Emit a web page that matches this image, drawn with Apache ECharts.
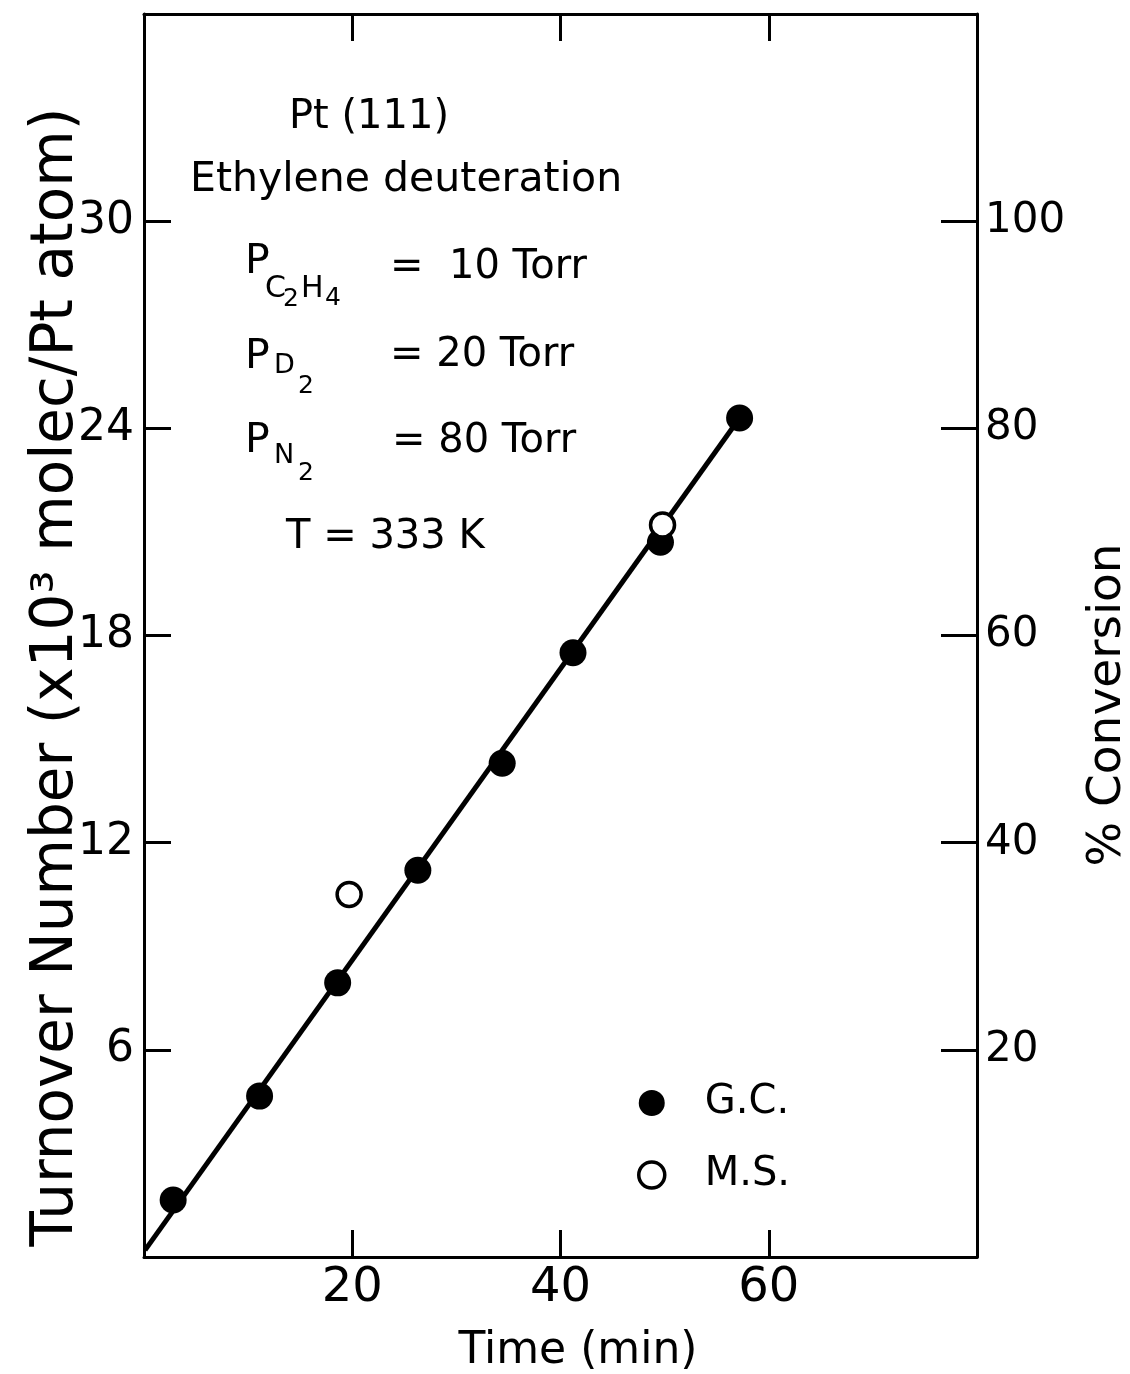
<!DOCTYPE html>
<html><head><meta charset="utf-8">
<script src="https://cdn.jsdelivr.net/npm/echarts@6/dist/echarts.min.js"></script>
<style>html,body{margin:0;padding:0;background:#fff}#c{width:1130px;height:1374px}</style>
</head><body><div id="c"></div>
<script>
// ---- data ----
const gcTime = [2.8, 11.1, 18.6, 26.3, 34.4, 41.2, 49.6, 57.2];
const gcTurnover = [1.65, 4.66, 7.94, 11.2, 14.3, 17.5, 20.7, 24.3];
const msTime = [19.7, 49.8];
const msTurnover = [10.5, 21.2];
const fitTime = [0.1, 57.2];
const fitTurnover = [0.2, 24.3];
const xTickLabels = [20, 40, 60];
const leftTickLabels = [6, 12, 18, 24, 30];
const rightTickLabels = [20, 40, 60, 80, 100];
const seriesNames = ['G.C.', 'M.S.'];

const FONT = 'DejaVu Sans';
const INK = '#000';

const zip = (a, b) => a.map((v, i) => [v, b[i]]);
const only = list => v => (list.indexOf(Math.round(v)) >= 0 ? String(Math.round(v)) : '');

const chart = echarts.init(document.getElementById('c'), null, {renderer: 'canvas'});

function txt(text, x, y, size, extra) {
  return Object.assign({
    type: 'text', x: x, y: y, z: 10,
    style: {
      text: text, fontFamily: FONT, fontSize: size, fill: INK,
      align: 'left', verticalAlign: 'middle', textAlign: 'left', textVerticalAlign: 'middle'
    }
  }, extra || {});
}
function ctxt(text, x, y, size, rot) {
  const t = txt(text, x, y, size, rot ? {rotation: rot} : {});
  t.style.align = 'center'; t.style.textAlign = 'center';
  return t;
}

const axisLine = {show: true, onZero: false, lineStyle: {color: INK, width: 3}};
const tick = len => ({show: true, inside: true, length: len, lineStyle: {color: INK, width: 3}});

chart.setOption({
  backgroundColor: '#fff',
  animation: false,
  grid: {left: 144, right: 153, top: 14, bottom: 117, containLabel: false},
  xAxis: [{
    type: 'value', position: 'bottom', min: 0, max: 80, interval: 20,
    axisLine: axisLine, axisTick: tick(27), splitLine: {show: false},
    axisLabel: {formatter: only(xTickLabels), fontFamily: FONT, fontSize: 48, color: INK, margin: 8}
  }, {
    type: 'value', position: 'top', min: 0, max: 80, interval: 20,
    axisLine: axisLine, axisTick: tick(27), splitLine: {show: false},
    axisLabel: {show: false}
  }],
  yAxis: [{
    type: 'value', position: 'left', min: 0, max: 36, interval: 6,
    axisLine: axisLine, axisTick: tick(27), splitLine: {show: false},
    axisLabel: {formatter: only(leftTickLabels), fontFamily: FONT, fontSize: 44, color: INK, margin: 10}
  }, {
    type: 'value', position: 'right', min: 0, max: 120, interval: 20,
    axisLine: axisLine, axisTick: tick(36), splitLine: {show: false},
    axisLabel: {formatter: only(rightTickLabels), fontFamily: FONT, fontSize: 42, color: INK, margin: 8}
  }],
  legend: {
    orient: 'vertical', left: 637, top: 1083, itemWidth: 26, itemHeight: 26, itemGap: 32,
    padding: 0, icon: 'circle',
    data: [
      {name: seriesNames[0], itemStyle: {color: INK}},
      {name: seriesNames[1], itemStyle: {color: '#fff', borderColor: INK, borderWidth: 3.5}}
    ],
    textStyle: {fontFamily: FONT, fontSize: 40, color: INK, lineHeight: 40, padding: [0, 0, 0, 35]}
  },
  series: [{
    type: 'line', name: 'fit', data: zip(fitTime, fitTurnover), showSymbol: false, symbol: 'none',
    lineStyle: {color: INK, width: 5}, z: 1, silent: true
  }, {
    type: 'scatter', name: seriesNames[0], data: zip(gcTime, gcTurnover), symbol: 'circle', symbolSize: 27,
    itemStyle: {color: INK, opacity: 1}, z: 3
  }, {
    type: 'scatter', name: seriesNames[1], data: zip(msTime, msTurnover), symbol: 'circle', symbolSize: 24,
    itemStyle: {color: '#fff', borderColor: INK, borderWidth: 3.5, opacity: 1}, z: 4
  }],
  graphic: [
    ctxt('Turnover Number (x10³ molec/Pt atom)', 57, 677, 58, Math.PI / 2),
    ctxt('% Conversion', 1108, 705, 47, Math.PI / 2),
    ctxt('Time (min)', 578, 1352, 44),
    ctxt('Pt (111)', 369, 118, 40),
    txt('Ethylene deuteration', 190, 180, 41),
    txt('P', 245, 262, 41),
    txt('C', 265, 289, 30),
    txt('2', 283, 299, 25),
    txt('H', 301, 289, 30),
    txt('4', 325, 298, 25),
    txt('=  10 Torr', 390, 268, 40),
    txt('P', 245, 357, 41),
    txt('D', 274, 366, 27),
    txt('2', 298, 386, 25),
    txt('= 20 Torr', 390, 356, 40),
    txt('P', 245, 441, 41),
    txt('N', 274, 456, 27),
    txt('2', 298, 473, 25),
    txt('= 80 Torr', 392, 442, 40),
    txt('T = 333 K', 286, 538, 40)
  ]
});
</script>
</body></html>
